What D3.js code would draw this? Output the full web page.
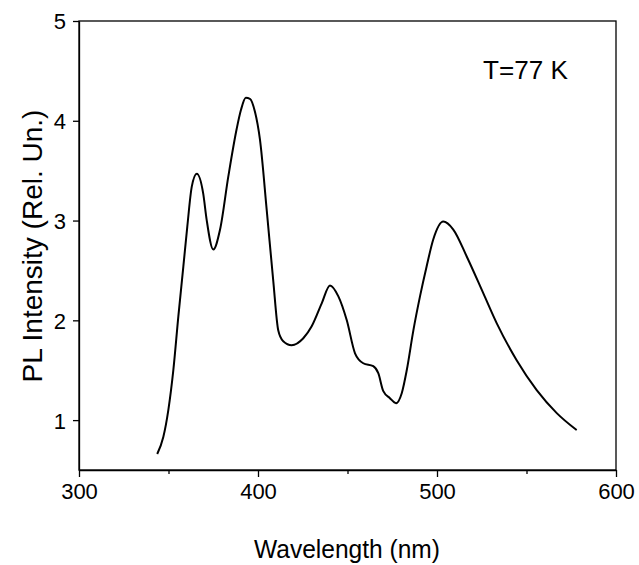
<!DOCTYPE html>
<html><head><meta charset="utf-8">
<script src="https://cdn.jsdelivr.net/npm/d3@7"></script>
<style>body{margin:0;background:#fff}svg{display:block}text{font-family:"Liberation Sans",Arial,sans-serif;fill:#000}</style>
</head><body>
<svg id="c" width="639" height="565"></svg>
<script>
const wavelength = [343.7,347.1,349.9,352.7,355.5,358.3,360.5,363.0,365.8,369.4,371.3,375.0,378.8,383.4,388.1,390.5,393.2,395.5,398.3,401.1,404.9,408.5,411.3,414.1,418.8,425.3,430.0,435.6,440.2,444.9,449.6,454.2,458.8,464.4,467.2,470.0,473.7,477.1,480.3,483.1,486.8,490.5,494.2,497.9,503.5,509.1,516.6,525.9,533.4,544.5,555.7,566.9,578.0];
const intensity = [0.66,0.83,1.10,1.50,2.04,2.54,2.94,3.34,3.47,3.27,3.01,2.71,2.91,3.44,3.92,4.11,4.23,4.22,4.09,3.81,3.10,2.40,1.90,1.79,1.75,1.82,1.94,2.17,2.35,2.24,2.00,1.67,1.57,1.54,1.47,1.29,1.22,1.17,1.27,1.50,1.90,2.24,2.54,2.81,2.99,2.91,2.64,2.27,1.97,1.60,1.30,1.07,0.90];
const xTicks = [300,350,400,450,500,550,600];
const xTickLabels = ["300","","400","","500","","600"];
const yTicks = [1,2,3,4,5];
const annotation = "T=77 K";
const xTitle = "Wavelength (nm)";
const yTitle = "PL Intensity (Rel. Un.)";

const svg = d3.select("#c");
const x = d3.scaleLinear().domain([300,600]).range([79,616]);
const y = d3.scaleLinear().domain([0.5,5]).range([470,21]);

// frame
svg.append("rect").attr("x",79).attr("y",21).attr("width",537).attr("height",449)
  .attr("fill","none").attr("stroke","#000").attr("stroke-width",1.3);

// x axis
const gx = svg.append("g").attr("transform","translate(0,470)");
gx.call(d3.axisBottom(x).tickValues(xTicks).tickSize(7).tickSizeOuter(0).tickFormat((d,i)=>xTickLabels[i]));
gx.select(".domain").attr("stroke-width",1.3);
gx.selectAll(".tick line").attr("stroke-width",1.3).attr("y2",(d,i)=> d%100===0?7:4);
gx.selectAll(".tick text").attr("font-size",22).attr("y",29).attr("dy",0)
  .style("font-family","'Liberation Sans',Arial,sans-serif");

// y axis
const gy = svg.append("g").attr("transform","translate(79,0)");
gy.call(d3.axisLeft(y).tickValues(yTicks).tickSize(6).tickSizeOuter(0).tickFormat(d3.format("d")));
gy.select(".domain").attr("stroke-width",1.3);
gy.selectAll(".tick line").attr("stroke-width",1.3);
gy.selectAll(".tick text").attr("font-size",22).attr("x",-13).attr("dy","0.36em")
  .style("font-family","'Liberation Sans',Arial,sans-serif");

// curve
const line = d3.line().x((d,i)=>x(wavelength[i])).y((d,i)=>y(intensity[i])).curve(d3.curveMonotoneX);
svg.append("path").datum(intensity).attr("d",line).attr("fill","none").attr("stroke","#000").attr("stroke-width",2);

// titles
svg.append("text").attr("x",347).attr("y",558).attr("text-anchor","middle").attr("font-size",26)
  .attr("textLength",186).attr("lengthAdjust","spacingAndGlyphs").text(xTitle);
svg.append("text").attr("transform","translate(42,246) rotate(-90)").attr("text-anchor","middle").attr("font-size",28)
  .text(yTitle);
svg.append("text").attr("x",483).attr("y",79).attr("font-size",25).attr("textLength",85).attr("lengthAdjust","spacingAndGlyphs").text(annotation);
</script>
</body></html>
